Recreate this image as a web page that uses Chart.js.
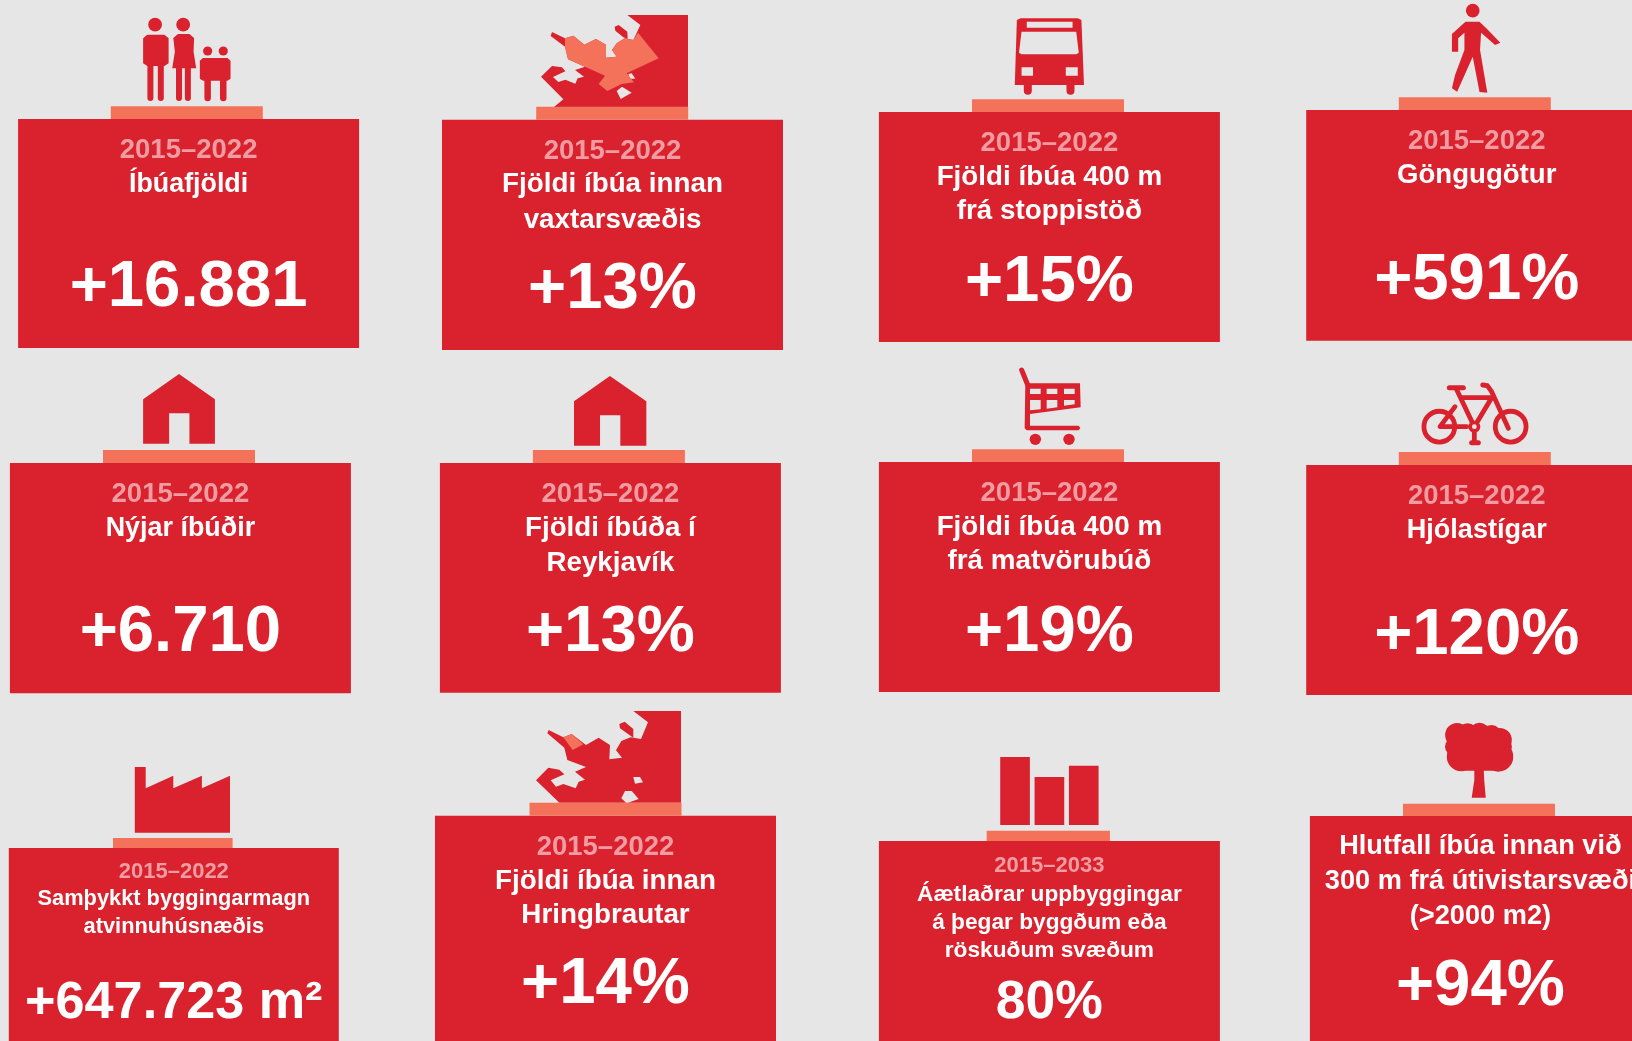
<!DOCTYPE html>
<html lang="is">
<head>
<meta charset="utf-8">
<title>Lykiltölur 2015–2022</title>
<style>
  html, body { margin: 0; padding: 0; background: #e6e6e6; overflow: hidden; }
  canvas { display: block; }
</style>
<script src="https://cdn.jsdelivr.net/npm/chart.js@4/dist/chart.umd.min.js"></script>
</head>
<body>
<canvas id="infographic" width="1632" height="1041"></canvas>
<script>
const years = ["2015–2022", "2015–2022", "2015–2022", "2015–2022", "2015–2022", "2015–2022",
    "2015–2022", "2015–2022", "2015–2022", "2015–2022", "2015–2033", ""];
const titles = [
    ["Íbúafjöldi"],
    ["Fjöldi íbúa innan", "vaxtarsvæðis"],
    ["Fjöldi íbúa 400 m", "frá stoppistöð"],
    ["Göngugötur"],
    ["Nýjar íbúðir"],
    ["Fjöldi íbúða í", "Reykjavík"],
    ["Fjöldi íbúa 400 m", "frá matvörubúð"],
    ["Hjólastígar"],
    ["Samþykkt byggingarmagn", "atvinnuhúsnæðis"],
    ["Fjöldi íbúa innan", "Hringbrautar"],
    ["Áætlaðrar uppbyggingar", "á þegar byggðum eða", "röskuðum svæðum"],
    ["Hlutfall íbúa innan við", "300 m frá útivistarsvæði", "(>2000 m2)"]
];
const values = ["+16.881", "+13%", "+15%", "+591%", "+6.710", "+13%", "+19%", "+120%",
    "+647.723 m²", "+14%", "80%", "+94%"];

// card layout, in page pixels
const cardCenter = [188.6, 612.5, 1049.4, 1476.7, 180.4, 610.4, 1049.4, 1476.7, 173.8, 605.5, 1049.4, 1480.4];
const cardTop = [119, 119.7, 112, 110, 463, 463, 462, 465, 848, 815.7, 841, 816];
const cardBottom = [348, 350, 342, 340.7, 693.3, 692.7, 692, 695, 1041, 1041, 1041, 1041];
const stripCenter = [186.8, 612.2, 1048, 1474.8, 179, 608.9, 1048, 1474.8, 172.8, 605.5, 1048.3, 1479];
const stripTop = [106.3, 106.7, 99.3, 97.3, 450, 450, 449.3, 452, 838, 802.7, 830.7, 803.7];
const cardWidth = [341, 341, 341, 341, 341, 341, 341, 341, 330, 341, 341, 341];
const stripWidth = [152, 152, 152, 152, 152, 152, 152, 152, 119.6, 152, 123.3, 152];
const yearSize = [27.5, 27.5, 27.5, 27.5, 27.5, 27.5, 27.5, 27.5, 22, 27.5, 22, 27.5];
const titleSize = [26.8, 27.8, 27.8, 27.6, 26.9, 27.7, 27.8, 27.1, 21.8, 27.8, 22.7, 27.2];
const valueSize = [65.3, 65.3, 65.3, 65.3, 65.3, 65.3, 65.3, 65.3, 52.2, 65.3, 53.5, 65.3];
const yearBase = [38.8, 38.8, 38.8, 38.8, 38.8, 38.8, 38.8, 38.8, 30.3, 38.8, 31.3, 0];
const titleBases = [
    [72.7], [72.7, 108], [73, 107], [73], [73], [73, 107.5], [73, 107], [73],
    [57, 84.7], [73, 107.6], [60, 88.3, 116.3], [38.3, 73, 108]
];
const valueBase = [187, 188.6, 188.7, 188.7, 187.7, 188, 188.7, 188.7, 170, 187.6, 176.7, 189];

const RED = "#d9222e";
const ORANGE = "#f47259";
const BACK = "#e6e6e6";
const YEAR_COLOR = "#f09ca2";

function crop(ox, oy, sx, sy, pts) {
    return pts.map(p => ({ x: ox + p[0] / sx, y: oy + p[1] / sy }));
}
const ZX = 1.9216;
const row1L = pts => crop(0, 0, ZX, 3, pts);
const row1R = pts => crop(816, 0, ZX, 3, pts);
const row2L = pts => crop(0, 360, ZX, 3, pts);
const row3L = pts => crop(0, 700, ZX, 3, pts);
const row3R = pts => crop(816, 700, ZX, 3, pts);
const map1 = pts => crop(530, 10, 3, 3, pts);
const map2 = pts => crop(530, 705, 3, 3, pts);
const bike = pts => crop(1410, 375, 3, 3, pts);
const cart = pts => crop(1000, 360, 3, 3, pts);

const datasets = [];

function shape(points, color) {
    datasets.push({
        type: "scatter", showLine: true, data: points, fill: "shape", backgroundColor: color,
        borderColor: "transparent", borderWidth: 0, pointRadius: 0, tension: 0
    });
}
function stroke(points, width, color) {
    datasets.push({
        type: "scatter", showLine: true, data: points, fill: false, borderColor: color || RED,
        borderWidth: width, borderCapStyle: "round", borderJoinStyle: "round", pointRadius: 0, tension: 0
    });
}
function dot(point, radius, color) {
    datasets.push({
        type: "scatter", data: [point], pointRadius: radius, pointBackgroundColor: color || RED,
        pointBorderWidth: 0, pointBorderColor: "transparent"
    });
}
function ring(point, radius, width, color) {
    datasets.push({
        type: "scatter", data: [point], pointRadius: radius, pointBackgroundColor: "transparent",
        pointBorderWidth: width, pointBorderColor: color || RED
    });
}
function bars(points, thickness, color) {
    datasets.push({
        type: "bar", data: points, barThickness: thickness, backgroundColor: color,
        stack: "all", borderWidth: 0, inflateAmount: 0
    });
}
function rectHole(fn, x0, y0, x1, y1) {
    shape(fn([[x0, y0], [x1, y0], [x1, y1], [x0, y1]]), BACK);
}

// cards
titles.forEach((t, i) => {
    bars([{ x: cardCenter[i], y: [cardTop[i], cardBottom[i]] }], cardWidth[i], RED);
});

// family
dot(row1L([[298, 74]])[0], 6.9);
dot(row1L([[352, 74]])[0], 6.9);
dot(row1L([[399, 153]])[0], 4.6);
dot(row1L([[429, 153]])[0], 4.6);
shape(row1L([[283, 104], [316, 104], [324, 115], [324, 190], [316, 198], [283, 198], [275, 190], [275, 115]]), RED);
stroke(row1L([[289, 198], [289, 294]]), 6);
stroke(row1L([[309, 198], [309, 294]]), 6);
shape(row1L([[342, 102], [364, 102], [373, 114], [372, 155], [377, 205], [331, 205], [336, 155], [333, 114]]), RED);
stroke(row1L([[344, 205], [344, 294]]), 6);
stroke(row1L([[361, 205], [361, 294]]), 6);
shape(row1L([[390, 174], [437, 174], [443, 182], [443, 236], [437, 242], [390, 242], [384, 236], [384, 182]]), RED);
stroke(row1L([[399, 242], [399, 294]]), 6.5);
stroke(row1L([[429, 242], [429, 294]]), 6.5);

// growth area map
shape(map1([[292, 15], [474, 15], [474, 291], [72, 291], [100, 268], [33, 200], [66, 168], [96, 172], [106, 184],
    [69, 201], [85, 216], [106, 209], [136, 221], [143, 205], [162, 200], [135, 180], [165, 170], [114, 148],
    [105, 110], [62, 78], [66, 66], [105, 85], [130, 77], [163, 104], [198, 87], [228, 104], [228, 143],
    [260, 140], [246, 120], [260, 100], [284, 85], [310, 90], [331, 45]]), RED);
shape(map1([[254, 50], [266, 45], [292, 65], [293, 87], [280, 82], [256, 62]]), RED);
shape(map1([[295, 192], [305, 190], [316, 206], [300, 206]]), BACK);
shape(map1([[260, 243], [276, 230], [305, 248], [272, 267]]), BACK);
shape(map1([[105, 85], [130, 77], [163, 104], [198, 87], [228, 104], [228, 143], [260, 140], [246, 120], [260, 100],
    [284, 85], [310, 90], [324, 68], [386, 145], [290, 190], [312, 217], [275, 222], [232, 243], [206, 222],
    [225, 197], [165, 170], [114, 148], [105, 110]]), ORANGE);

// bus
shape(row1R([[386, 60], [393, 55], [503, 55], [510, 60], [515, 255], [382, 255]]), RED);
stroke(row1R([[407, 255], [407, 272]]), 8);
stroke(row1R([[489, 255], [489, 272]]), 8);
shape(row1R([[395, 95], [500, 95], [505, 158], [500, 163], [395, 163], [390, 158]]), BACK);
rectHole(row1R, 405, 65, 493, 83);
rectHole(row1R, 395, 202, 417, 227);
rectHole(row1R, 480, 202, 503, 227);

// pedestrian
dot(row1R([[1262, 32]])[0], 6.8);
shape(row1R([[1248, 65], [1275, 65], [1290, 88], [1315, 128], [1305, 135], [1278, 98], [1276, 150], [1290, 278],
    [1275, 276], [1262, 170], [1232, 275], [1222, 265], [1228, 225], [1246, 150], [1246, 98], [1234, 115],
    [1234, 155], [1222, 155], [1222, 102]]), RED);

// houses
shape(row2L([[344, 42], [413, 118], [413, 251], [364, 251], [364, 160], [325, 160], [325, 251], [275, 251], [275, 118]]), RED);
shape(row2L([[1172, 48], [1242, 124], [1242, 257], [1192, 257], [1192, 166], [1153, 166], [1153, 257], [1103, 257], [1103, 124]]), RED);

// shopping cart
stroke(cart([[65, 30], [82, 72]]), 5);
shape(cart([[76, 70], [240, 70], [242, 142], [90, 162], [90, 197], [236, 197], [241, 204], [236, 211], [80, 211], [74, 205]]), RED);
rectHole(cart, 90, 86, 122, 102);
rectHole(cart, 140, 86, 172, 102);
rectHole(cart, 192, 86, 224, 102);
shape(cart([[90, 120], [122, 120], [122, 148], [90, 151]]), BACK);
shape(cart([[140, 120], [172, 120], [172, 142], [140, 146]]), BACK);
shape(cart([[192, 120], [224, 120], [224, 133], [192, 137]]), BACK);
dot(cart([[106, 238]])[0], 5.7);
dot(cart([[207, 238]])[0], 5.7);

// bicycle
ring(bike([[88, 155]])[0], 15.4, 4.8);
ring(bike([[302, 155]])[0], 15.4, 4.8);
stroke(bike([[118, 38], [160, 38]]), 5);
stroke(bike([[138, 40], [193, 155]]), 4.8);
stroke(bike([[155, 68], [245, 68], [193, 155]]), 4.8);
stroke(bike([[135, 95], [90, 155], [170, 155]]), 4.8);
stroke(bike([[218, 30], [232, 32], [245, 50], [295, 160]]), 4.8);
stroke(bike([[193, 155], [193, 200]]), 4.8);
stroke(bike([[185, 203], [205, 203]]), 5);
dot(bike([[193, 155]])[0], 6);
dot(bike([[193, 155]])[0], 2.4, BACK);

// factory
shape(row3L([[259, 201], [280, 201], [280, 265], [333, 227], [333, 265], [388, 227], [388, 265], [442, 227], [442, 398], [259, 398]]), RED);

// second map
shape(map2([[310, 18], [453, 18], [453, 293], [88, 293], [18, 226], [55, 188], [88, 194], [103, 208], [62, 226],
    [78, 245], [100, 237], [137, 250], [146, 230], [165, 224], [135, 200], [168, 186], [112, 165], [103, 128],
    [52, 85], [56, 75], [100, 97], [125, 87], [168, 120], [206, 98], [240, 120], [238, 163], [276, 158],
    [258, 136], [274, 108], [302, 97], [333, 102], [354, 52]]), RED);
shape(map2([[268, 57], [284, 50], [310, 72], [310, 98], [295, 88], [270, 70]]), RED);
shape(map2([[310, 216], [330, 216], [339, 232], [315, 236]]), BACK);
shape(map2([[285, 258], [305, 258], [326, 282], [290, 295], [274, 280]]), BACK);
shape(map2([[100, 97], [125, 87], [160, 118], [128, 135]]), ORANGE);

// small buildings
shape(row3R([[354, 171], [411, 171], [411, 375], [354, 375]]), RED);
shape(row3R([[420, 231], [477, 231], [477, 375], [420, 375]]), RED);
shape(row3R([[486, 197], [543, 197], [543, 375], [486, 375]]), RED);

// tree: round lobes over a filled middle
dot(row3R([[1232, 105]])[0], 12);
dot(row3R([[1252, 100]])[0], 10);
dot(row3R([[1275, 98]])[0], 10);
dot(row3R([[1298, 105]])[0], 10);
dot(row3R([[1314, 120]])[0], 12);
dot(row3R([[1226, 140]])[0], 9);
dot(row3R([[1320, 140]])[0], 9);
dot(row3R([[1240, 170]])[0], 14.5);
dot(row3R([[1311, 170]])[0], 15);
shape(row3R([[1230, 100], [1320, 100], [1325, 190], [1300, 212], [1250, 212], [1225, 190]]), RED);
shape(row3R([[1265, 200], [1283, 200], [1284, 240], [1287, 293], [1260, 293], [1265, 240]]), RED);

// strips go over the icons
titles.forEach((t, i) => {
    bars([{ x: stripCenter[i], y: [stripTop[i], cardTop[i]] }], stripWidth[i], ORANGE);
});

// later entries paint over earlier ones
datasets.forEach((d, i) => { d.order = -i; });

const cardText = {
    id: "cardText",
    afterDatasetsDraw(chart) {
        const ctx = chart.ctx;
        const x = chart.scales.x;
        const y = chart.scales.y;
        const font = size => `bold ${size}px "Liberation Sans", Arial, sans-serif`;
        ctx.save();
        ctx.textAlign = "center";
        ctx.textBaseline = "alphabetic";
        titles.forEach((lines, i) => {
            const cx = x.getPixelForValue(cardCenter[i]);
            if (years[i]) {
                ctx.font = font(yearSize[i]);
                ctx.fillStyle = YEAR_COLOR;
                ctx.fillText(years[i], cx, y.getPixelForValue(cardTop[i] + yearBase[i]));
            }
            ctx.font = font(titleSize[i]);
            ctx.fillStyle = "#ffffff";
            lines.forEach((line, n) => {
                ctx.fillText(line, cx, y.getPixelForValue(cardTop[i] + titleBases[i][n]));
            });
            ctx.font = font(valueSize[i]);
            ctx.fillText(values[i], cx, y.getPixelForValue(cardTop[i] + valueBase[i]));
        });
        ctx.restore();
    }
};

new Chart(document.getElementById("infographic"), {
    type: "bar",
    data: { datasets: datasets },
    options: {
        responsive: false,
        animation: false,
        events: [],
        layout: { padding: 0, autoPadding: false },
        plugins: { legend: { display: false }, tooltip: { enabled: false }, title: { display: false } },
        scales: {
            x: { type: "linear", min: 0, max: 1632, display: false, stacked: true, offset: false },
            y: { type: "linear", min: 0, max: 1041, reverse: true, display: false, stacked: false }
        }
    },
    plugins: [cardText]
});
</script>
</body>
</html>
